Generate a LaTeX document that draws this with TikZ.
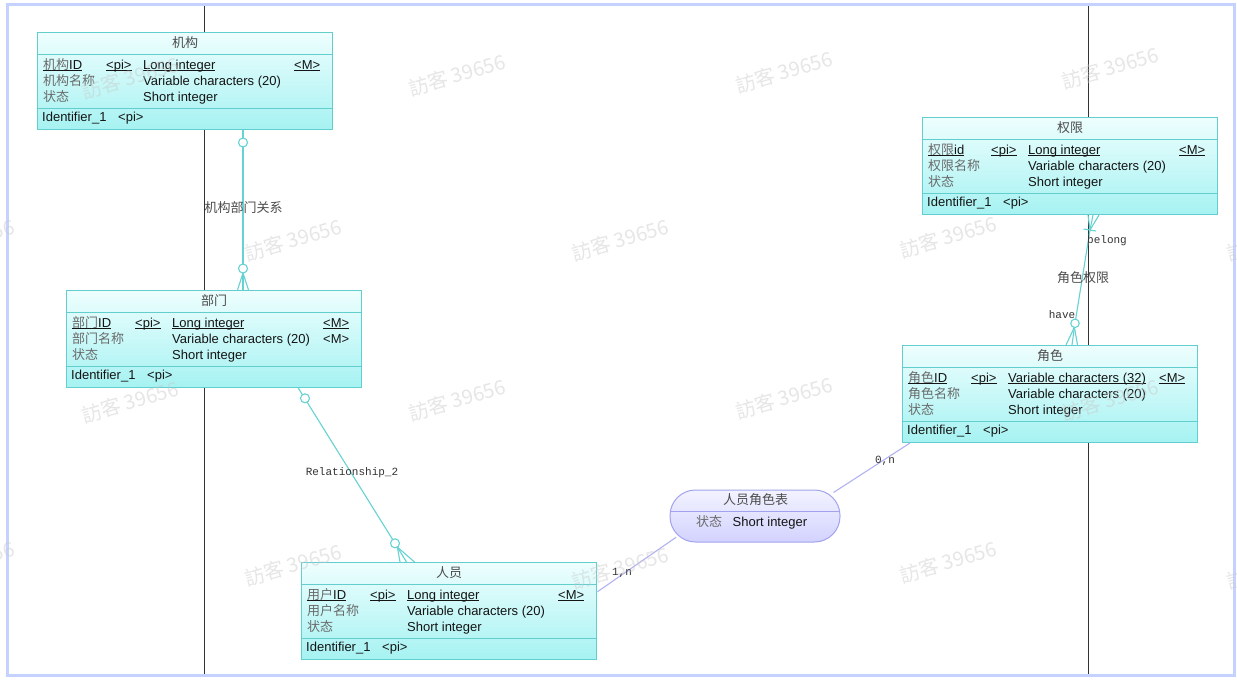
\documentclass[tikz,border=0pt]{standalone}
\usepackage{fontspec}
\setmainfont{Liberation Sans}
\newfontfamily\cjk{Noto Sans CJK SC}
\newfontfamily\lblmono{Liberation Mono}
\usetikzlibrary{calc}

\definecolor{entfilltop}{HTML}{EEFEFE}
\definecolor{entfill}{HTML}{A6F2F2}
\definecolor{entdraw}{HTML}{62CECE}
\definecolor{relfilltop}{HTML}{F3F3FF}
\definecolor{relfill}{HTML}{D2D2FF}
\definecolor{reldraw}{HTML}{A2A2EE}
\definecolor{tealline}{HTML}{66D2D2}
\definecolor{lavline}{HTML}{B2B2F2}
\definecolor{framecol}{HTML}{C5D2FF}
\definecolor{cngray}{HTML}{6A6A6A}
\definecolor{ttlgray}{HTML}{4C4C4C}
\definecolor{wmgray}{HTML}{C8C8C8}

% Chinese field names in grey
\newcommand{\cnname}[1]{{\color{cngray}\cjk #1}}
% underline sitting close to the baseline
\newcommand{\erul}[1]{\setbox0=\hbox{#1}\rlap{\rule[-2pt]{\wd0}{0.7pt}}\box0}

% entity box: name, north-west corner, title
\newcommand{\erentity}[3]{%
  \node[entbox] (#1) at (#2) {};
  \draw[entsep] ($(#1.north west)+(0,22)$) -- ($(#1.north east)+(0,22)$);
  \draw[entsep] ($(#1.north west)+(0,76)$) -- ($(#1.north east)+(0,76)$);
  \node[titletxt] (#1-title) at ($(#1.north)+(0,15.5)$) {#3};
  \node[txt] (#1-ident) at ($(#1.north west)+(5,89)$) {Identifier\_1};
  \node[txt] (#1-identpi) at ($(#1.north west)+(81,89)$) {<pi>};
}
% attribute row: box, baseline offset, name, key, type, mandatory
\newcommand{\errow}[6]{%
  \node[txt] (#1-n#2) at ($(#1.north west)+(6,#2)$) {#3};
  \node[txt] (#1-k#2) at ($(#1.north west)+(69,#2)$) {#4};
  \node[txt] (#1-d#2) at ($(#1.north west)+(106,#2)$) {#5};
  \node[txt] (#1-m#2) at ($(#1.north west)+(257,#2)$) {#6};
}

\begin{document}
\begin{tikzpicture}[x=1pt,y=-1pt,
  entbox/.style={draw=entdraw, line width=1pt, top color=entfilltop, bottom color=entfill,
    minimum width=295pt, minimum height=97pt, inner sep=0pt, anchor=north west},
  entsep/.style={draw=entdraw, line width=0.9pt},
  relbox/.style={draw=reldraw, line width=1pt, top color=relfilltop, bottom color=relfill,
    minimum width=170pt, minimum height=52pt, inner sep=0pt, rounded corners=25.5pt},
  relsep/.style={draw=reldraw, line width=0.9pt},
  txt/.style={inner sep=0pt, anchor=base west, text=black!92, font=\fontsize{13}{15}\selectfont},
  titletxt/.style={inner sep=0pt, anchor=base, text=ttlgray, font=\fontsize{13}{15}\selectfont\cjk},
  lbl/.style={inner sep=0pt, text=black!80, font=\fontsize{11}{13}\selectfont\lblmono},
  cnlbl/.style={inner sep=0pt, text=ttlgray, font=\fontsize{13}{15}\selectfont\cjk},
  tline/.style={draw=tealline, line width=1.1pt},
  lline/.style={draw=lavline, line width=1.1pt},
  optc/.style={circle, draw=tealline, fill=white, line width=1.1pt, minimum size=9pt, inner sep=0pt},
  vline/.style={draw=black!80, line width=1pt},
  wmark/.style={inner sep=0pt, text=wmgray, opacity=0.45, rotate=16,
    font=\fontsize{20}{22}\selectfont\cjk}]

\path[use as bounding box, clip] (0,0) rectangle (1237,686);
\fill[white] (0,0) rectangle (1237,686);
\draw[framecol, line width=3pt] (7.5,4.5) rectangle (1234.5,675.5);

% swimlane separators
\coordinate (v1top) at (204,6);   \coordinate (v1bot) at (204,674);
\coordinate (v2top) at (1088,6);  \coordinate (v2bot) at (1088,674);
\draw[vline] (v1top) -- (v1bot);
\draw[vline] (v2top) -- (v2bot);

% entities
\erentity{jigou}{37,32}{机构}
\errow{jigou}{37}{\erul{\cnname{机构}ID}}{\erul{<pi>}}{\erul{Long integer}}{\erul{<M>}}
\errow{jigou}{53}{\cnname{机构名称}}{}{Variable characters (20)}{}
\errow{jigou}{69}{\cnname{状态}}{}{Short integer}{}

\erentity{bumen}{66,290}{部门}
\errow{bumen}{37}{\erul{\cnname{部门}ID}}{\erul{<pi>}}{\erul{Long integer}}{\erul{<M>}}
\errow{bumen}{53}{\cnname{部门名称}}{}{Variable characters (20)}{<M>}
\errow{bumen}{69}{\cnname{状态}}{}{Short integer}{}

\erentity{renyuan}{301,562}{人员}
\errow{renyuan}{37}{\erul{\cnname{用户}ID}}{\erul{<pi>}}{\erul{Long integer}}{\erul{<M>}}
\errow{renyuan}{53}{\cnname{用户名称}}{}{Variable characters (20)}{}
\errow{renyuan}{69}{\cnname{状态}}{}{Short integer}{}

\erentity{quanxian}{922,117}{权限}
\errow{quanxian}{37}{\erul{\cnname{权限}id}}{\erul{<pi>}}{\erul{Long integer}}{\erul{<M>}}
\errow{quanxian}{53}{\cnname{权限名称}}{}{Variable characters (20)}{}
\errow{quanxian}{69}{\cnname{状态}}{}{Short integer}{}

\erentity{juese}{902,345}{角色}
\errow{juese}{37}{\erul{\cnname{角色}ID}}{\erul{<pi>}}{\erul{Variable characters (32)}}{\erul{<M>}}
\errow{juese}{53}{\cnname{角色名称}}{}{Variable characters (20)}{}
\errow{juese}{69}{\cnname{状态}}{}{Short integer}{}

% association entity
\node[relbox] (rybiao) at (755,516) {};
\draw[relsep] ($(rybiao.west)+(0.6,-4.3)$) -- ($(rybiao.east)+(-0.6,-4.3)$);
\node[titletxt] (rybiao-title) at ($(rybiao.north)+(0.5,15)$) {人员角色表};
\node[txt] (rybiao-n) at (696,526.5) {\cnname{状态}};
\node[txt] (rybiao-d) at (732.5,526.5) {Short integer};

% 机构 -- 部门
\coordinate (o1) at (243,142.5);
\coordinate (o2) at (243,268.5);
\draw[tline] (jigou.south -| o1) -- (o2);
\coordinate (cf1) at ($(o2)+(0,4.5)$);
\draw[tline] (cf1) -- ($(bumen.north -| o2)+(-5.5,0)$);
\draw[tline] (cf1) -- (bumen.north -| o2);
\draw[tline] (cf1) -- ($(bumen.north -| o2)+(5.5,0)$);
\node[optc] (oc1) at (o1) {};
\node[optc] (oc2) at (o2) {};
\node[cnlbl] (lbl-jb) at (243.5,208) {机构部门关系};

% 部门 -- 人员
\coordinate (s2) at ($(bumen.south west)+(232.3,0)$);
\coordinate (o3) at (305,398.3);
\coordinate (o4) at (395,543.3);
\draw[tline] (s2) -- (o4);
\coordinate (cf2) at (397.4,547.1);
\draw[tline] (cf2) -- ($(renyuan.north west)+(99,0)$);
\draw[tline] (cf2) -- ($(renyuan.north west)+(105.5,0)$);
\draw[tline] (cf2) -- ($(renyuan.north west)+(113.5,0)$);
\node[optc] (oc3) at (o3) {};
\node[optc] (oc4) at (o4) {};
\node[lbl] (lbl-r2) at (352,473) {Relationship\_2};

% 权限 -- 角色
\coordinate (cf3) at (1090,230);
\draw[tline] ($(quanxian.south west)+(166,0)$) -- (cf3);
\draw[tline] ($(quanxian.south west)+(171,0)$) -- (cf3);
\draw[tline] ($(quanxian.south west)+(177,0)$) -- (cf3);
\draw[tline] ($(cf3)+(-6.5,-1)$) -- ($(cf3)+(6,1)$);
\coordinate (o5) at (1075,323.3);
\draw[tline] (cf3) -- (o5);
\coordinate (cf4) at (1074.4,327.2);
\draw[tline] (cf4) -- ($(juese.north west)+(164,0)$);
\draw[tline] (cf4) -- ($(juese.north west)+(170,0)$);
\draw[tline] (cf4) -- ($(juese.north west)+(175.5,0)$);
\node[optc, minimum size=8.5pt] (oc5) at (o5) {};
\node[lbl] (lbl-belong) at (1107,241) {belong};
\node[cnlbl] (lbl-jq) at (1083,278) {角色权限};
\node[lbl] (lbl-have) at (1062,315) {have};

% 人员 -- 人员角色表 -- 角色
\coordinate (p1) at ($(renyuan.north east)+(0.5,29.7)$);
\coordinate (p2) at ($(rybiao.south west)+(6.7,-5.3)$);
\coordinate (p3) at ($(rybiao.north east)+(-7,3)$);
\coordinate (p4) at ($(juese.south west)+(8,0)$);
\draw[lline] (p1) -- (p2);
\draw[lline] (p3) -- (p4);
\node[lbl] (lbl-1n) at (622,573) {1,n};
\node[lbl] (lbl-0n) at (885,461) {0,n};

% watermark
\foreach \wx/\wy [count=\i] in {130/78, 457/75, 784/72, 1110/68,
    -34/240, 293/240, 620/240, 948/237, 1275/240,
    130/402, 457/400, 784/398, 1110/400,
    -34/562, 293/565, 620/568, 948/562, 1275/568}
  \node[wmark] (wm\i) at (\wx,\wy) {訪客 39656};

\end{tikzpicture}
\end{document}
